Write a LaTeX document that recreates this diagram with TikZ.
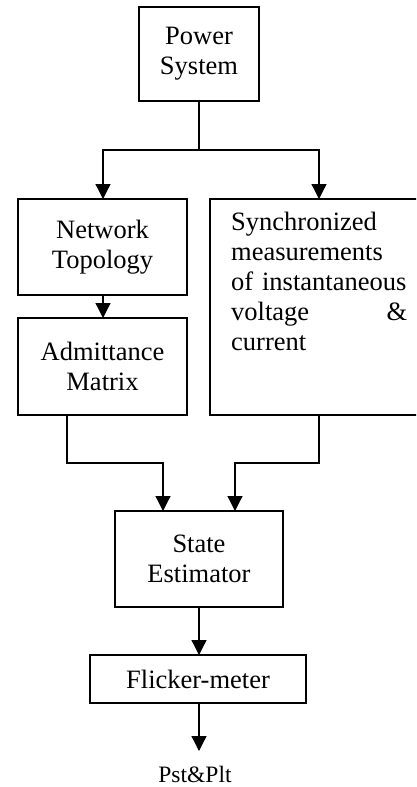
\documentclass[tikz,border=0pt]{standalone}
\usepackage{fontspec}
\setmainfont{Liberation Serif}
\usetikzlibrary{arrows.meta}
\begin{document}
\begin{tikzpicture}[x=1pt,y=-1pt,
  blk/.style={draw,line width=1.3pt,inner sep=0pt,align=center,
    font=\fontsize{26.5}{30}\selectfont},
  flow/.style={line width=1.3pt,-{Triangle[width=15pt,length=15pt]}},
  wire/.style={line width=1.3pt}]
\useasboundingbox (0,0) rectangle (416,787);
\clip (0,0) rectangle (416,787);
% blocks
\node[blk,minimum width=120pt,minimum height=94pt] (ps) at (199,54) {Power\\System};
\node[blk,minimum width=169pt,minimum height=96pt] (nt) at (102.5,247) {Network\\Topology};
\node[blk,minimum width=169pt,minimum height=97pt] (am) at (102.5,366.5) {Admittance\\Matrix};
\node[draw,line width=1.3pt,minimum width=212pt,minimum height=216pt,inner sep=0pt] (sm) at (316,307) {};
\node[anchor=north west,inner sep=0pt,text width=176pt,align=left,
  font=\fontsize{26.5}{30}\selectfont] (smt) at (231,212)
  {Synchronized\\measurements\\\mbox{of instantaneous}\\voltage\hfill\&\\current};
\node[blk,minimum width=168pt,minimum height=96pt] (se) at (199,559) {State\\Estimator};
\node[blk,minimum width=216pt,minimum height=48pt] (fm) at (198,679) {Flicker-meter};
\node[inner sep=0pt,font=\fontsize{23.5}{26}\selectfont] (out) at (195,774) {Pst\&Plt};
% branch points
\coordinate (split) at (199,150);
\coordinate (ntin) at (103,199);
\coordinate (smin) at (319,199);
\coordinate (amout) at (67,415);
\coordinate (smout) at (319,415);
\coordinate (sein1) at (163,511);
\coordinate (sein2) at (235,511);
\coordinate (outend) at (199,751);
% connectors
\draw[wire] (ps.south) -- (split);
\draw[flow] (split) -| (ntin);
\draw[flow] (split) -| (smin);
\draw[flow] (103,295) -- (103,318);
\draw[flow] (amout) |- (163,463) -- (sein1);
\draw[flow] (smout) |- (235,463) -- (sein2);
\draw[flow] (se.south) -- (199,655);
\draw[flow] (199,703) -- (outend);
\end{tikzpicture}
\end{document}
